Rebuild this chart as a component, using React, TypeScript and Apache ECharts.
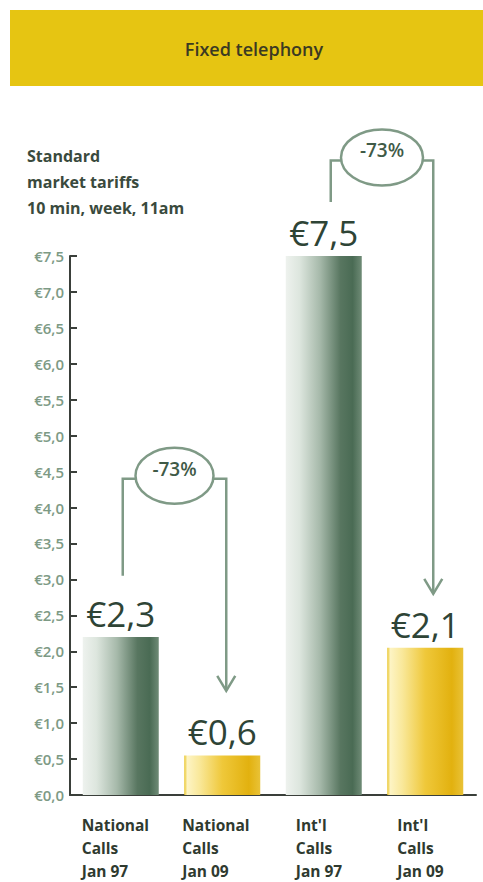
import React, { useEffect, useRef } from "react";
import * as echarts from "echarts";

const categories = ["National\nCalls\nJan 97", "National\nCalls\nJan 09", "Int'l\nCalls\nJan 97", "Int'l\nCalls\nJan 09"];
const barValues = [2.2, 0.55, 7.5, 2.05];
const valueLabels = ["€2,3", "€0,6", "€7,5", "€2,1"];
const barKinds = ["green", "yellow", "green", "yellow"];
const changeLabels = ["-73%", "-73%"];
const titleText = "Fixed telephony";
const subtitleLines = ["Standard", "market tariffs", "10 min, week, 11am"];

const FONT = "'Open Sans', 'Noto Sans', sans-serif";
const LINE = "#7f9a86";

function grad(kind: string) {
  if (kind === "green") {
    return new echarts.graphic.LinearGradient(0, 0, 1, 0, [
      { offset: 0, color: "#eef2ee" },
      { offset: 0.18, color: "#dde6de" },
      { offset: 0.45, color: "#a6b9aa" },
      { offset: 0.72, color: "#587660" },
      { offset: 0.88, color: "#4a6b54" },
      { offset: 1, color: "#6f8b76" },
    ]);
  }
  return new echarts.graphic.LinearGradient(0, 0, 1, 0, [
    { offset: 0, color: "#e9c52a" },
    { offset: 0.04, color: "#fdf4c4" },
    { offset: 0.2, color: "#f9e89a" },
    { offset: 0.5, color: "#efc83a" },
    { offset: 0.85, color: "#e2b10f" },
    { offset: 1, color: "#e9c237" },
  ]);
}

export default function App() {
  const ref = useRef<HTMLDivElement>(null);
  useEffect(() => {
    if (!ref.current) return;
    const chart = echarts.init(ref.current, undefined, { renderer: "svg" });
    const labelWidths = [78, 80, 56, 56];
    const rich: any = {};
    labelWidths.forEach((w, i) => {
      rich["c" + i] = {
        width: w,
        align: "left",
        fontFamily: FONT,
        fontWeight: "bold",
        fontSize: 15.5,
        lineHeight: 23,
        color: "#2f3a2f",
      };
    });
    chart.setOption({
      animation: false,
      grid: { left: 70, right: 7, top: 256, bottom: 87 },
      xAxis: {
        type: "category",
        data: categories,
        axisLine: { show: true, lineStyle: { color: "#3a3f3a", width: 2 } },
        axisTick: { show: false },
        axisLabel: {
          interval: 0,
          margin: 18,
          align: "center",
          formatter: (v: string, i: number) =>
            v.split("\n").map((l) => `{c${i}|${l}}`).join("\n"),
          rich,
        },
      },
      yAxis: {
        type: "value",
        min: 0,
        max: 7.5,
        interval: 0.5,
        splitLine: { show: false },
        axisLine: { show: true, lineStyle: { color: "#3a3f3a", width: 2 } },
        axisTick: { show: true, inside: true, length: 7, lineStyle: { color: "#3a3f3a", width: 2 } },
        axisLabel: {
          margin: 6,
          color: "#7d9a85",
          fontFamily: FONT,
          fontWeight: 600,
          fontSize: 15,
          formatter: (v: number) => "€" + v.toFixed(1).replace(".", ","),
        },
      },
      series: [
        {
          type: "bar",
          barWidth: 76,
          data: barValues.map((v, i) => ({ value: v, itemStyle: { color: grad(barKinds[i]) } })),
          label: {
            show: true,
            position: "top",
            distance: 6,
            fontFamily: FONT,
            fontSize: 35,
            color: "#2e4436",
            formatter: (p: any) => valueLabels[p.dataIndex],
          },
        },
      ],
    });

    const px = (i: number, v: number) => chart.convertToPixel({ gridIndex: 0 }, [i, v]) as number[];
    const brackets = [
      { from: 0, to: 1, top: 4.4, start: 3.05, end: 1.45, dxL: 2, dxR: 4, rx: 39 },
      { from: 2, to: 3, top: 8.83, start: 8.25, end: 2.8, dxL: 7, dxR: 8, rx: 41 },
    ];
    const gfx: any[] = [
      { type: "rect", shape: { x: 10, y: 10, width: 480, height: 76 }, style: { fill: "#e6c512" } },
      {
        type: "text",
        x: 254,
        y: 49,
        style: { text: titleText, fill: "#3b3a22", font: `600 18px ${FONT}`, align: "center", verticalAlign: "middle" },
      },
    ];
    subtitleLines.forEach((t, k) => {
      gfx.push({
        type: "text",
        x: 27,
        y: 156 + k * 26,
        style: { text: t, fill: "#3a4a3d", font: `bold 16px ${FONT}`, verticalAlign: "middle" },
      });
    });
    brackets.forEach((b, k) => {
      const xl = px(b.from, 0)[0] + b.dxL;
      const xr = px(b.to, 0)[0] + b.dxR;
      const yt = px(0, b.top)[1];
      const ys = px(0, b.start)[1];
      const ye = px(0, b.end)[1];
      const cx = (xl + xr) / 2;
      const ls = { stroke: LINE, lineWidth: 2.5, fill: null };
      gfx.push({ type: "polyline", shape: { points: [[xl, ys], [xl, yt], [cx - b.rx, yt]] }, style: ls });
      gfx.push({ type: "polyline", shape: { points: [[cx + b.rx, yt], [xr, yt], [xr, ye]] }, style: ls });
      gfx.push({ type: "polyline", shape: { points: [[xr - 9, ye - 15], [xr, ye], [xr + 9, ye - 15]] }, style: ls });
      gfx.push({ type: "ellipse", shape: { cx, cy: yt - 3, rx: b.rx, ry: 28 }, style: { stroke: LINE, lineWidth: 2.5, fill: "#ffffff" } });
      gfx.push({
        type: "text",
        x: cx,
        y: yt - 10,
        style: { text: changeLabels[k], fill: "#3f5a47", font: `600 19px ${FONT}`, align: "center", verticalAlign: "middle" },
      });
    });
    chart.setOption({ graphic: gfx });
    return () => chart.dispose();
  }, []);
  return <div ref={ref} style={{ position: "absolute", left: 0, top: 0, width: 483, height: 882 }} />;
}
